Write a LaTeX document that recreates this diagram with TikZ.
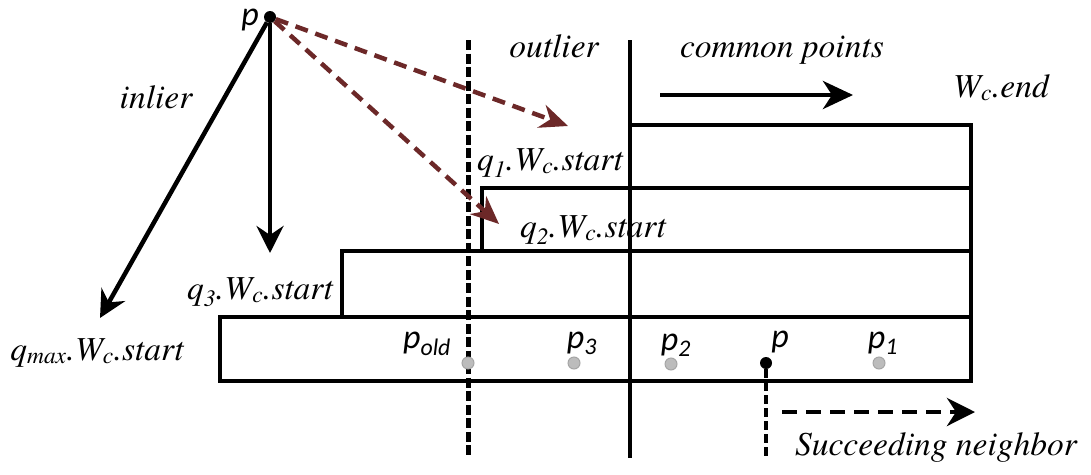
\documentclass[tikz,border=0pt]{standalone}
\usepackage{fontspec}
\newfontfamily\lfont{TeX Gyre Termes}
\newfontfamily\pfont{Carlito}
\usetikzlibrary{arrows.meta}
\definecolor{brn}{RGB}{108,40,40}
\definecolor{dotgray}{RGB}{188,188,188}
\definecolor{dotedge}{RGB}{165,165,165}
\begin{document}
\begin{tikzpicture}[x=1pt,y=-1pt,
  lbl/.style={font=\lfont\itshape\fontsize{33.5}{38}\selectfont, inner sep=0pt, anchor=base},
  plbl/.style={font=\pfont\itshape\fontsize{34}{38}\selectfont, inner sep=0pt, anchor=base},
  box/.style={draw, line width=3.5pt},
  bigarr/.style={line width=4.5pt, -{Stealth[length=27pt,width=27pt,inset=9pt]}},
  brnarr/.style={brn, line width=4.5pt, dash pattern=on 13pt off 8pt, -{Stealth[length=28pt,width=24pt,inset=9pt]}},
  graydot/.style={circle, fill=dotgray, draw=dotedge, line width=1pt, minimum size=12pt, inner sep=0pt},
  blackdot/.style={circle, fill=black, minimum size=12pt, inner sep=0pt},
  vdash/.style={line width=5pt, dash pattern=on 10pt off 3.5pt},
]
\useasboundingbox (0,0) rectangle (1091,474);

% boxes
\draw[box] (630,125) rectangle (971,188);
\draw[box] (482,188) rectangle (971,251);
\draw[box] (342,251) rectangle (971,317);
\draw[box] (220,317) rectangle (971,381);

% separators
\coordinate (s1top) at (468,40);
\coordinate (s1bot) at (468,458);
\coordinate (s2top) at (630,40);
\coordinate (s2bot) at (630,458);
\draw[vdash] (s1top) -- (s1bot);
\draw[line width=3.5pt] (s2top) -- (s2bot);

% top point p
\node[blackdot] (ptop) at (270,17) {};
\node[plbl] (ptoplbl) at (250,25) {p};

\coordinate (qmaxtip) at (100,318);
\coordinate (q3tip) at (270,253);
\coordinate (b1tip) at (568,126);
\coordinate (b2tip) at (499,224);
\draw[bigarr] (ptop) -- (qmaxtip);
\draw[bigarr] (ptop) -- (q3tip);
\draw[brnarr] (ptop) -- (b1tip);
\draw[brnarr] (ptop) -- (b2tip);

% common points arrow
\coordinate (cpa) at (660,95);
\coordinate (cpb) at (853,95);
\draw[line width=4.5pt, -{Stealth[length=30pt,width=28pt,inset=9pt]}] (cpa) -- (cpb);

% labels
\node[lbl] (inlier) at (156,108) {inlier};
\node[lbl] (outlier) at (554,57) {outlier};
\node[lbl] (common) at (782,57) {common points};
\node[lbl] (wend) at (1001,97) {W\textsubscript{c}.end};
\node[lbl] (q1) at (550,170) {q\textsubscript{1}.W\textsubscript{c}.start};
\node[lbl] (q2) at (593,237) {q\textsubscript{2}.W\textsubscript{c}.start};
\node[lbl] (q3) at (260,299) {q\textsubscript{3}.W\textsubscript{c}.start};
\node[lbl] (qmax) at (97,360) {q\textsubscript{max}.W\textsubscript{c}.start};

% points in bottom row
\node[graydot] (pold) at (468,363) {};
\node[graydot] (p3) at (574,363) {};
\node[graydot] (p2) at (671,364) {};
\node[blackdot] (pb) at (766,363) {};
\node[graydot] (p1) at (879,363) {};

\node[plbl] (poldlbl) at (427,348) {p\textsubscript{old}};
\node[plbl] (p3lbl) at (582,348) {p\textsubscript{3}};
\node[plbl] (p2lbl) at (676,350) {p\textsubscript{2}};
\node[plbl] (pblbl) at (780,347) {p};
\node[plbl] (p1lbl) at (883,348) {p\textsubscript{1}};

% succeeding neighbor
\coordinate (pdown) at (766,456);
\draw[line width=4pt, dash pattern=on 9pt off 4pt] (pb) -- (pdown);
\coordinate (sna) at (782,412);
\coordinate (snb) at (975,412);
\draw[line width=4.5pt, dash pattern=on 15pt off 9pt, -{Stealth[length=28pt,width=28pt,inset=9pt]}] (sna) -- (snb);
\node[lbl] (succ) at (936,455) {Succeeding neighbor};
\end{tikzpicture}
\end{document}
